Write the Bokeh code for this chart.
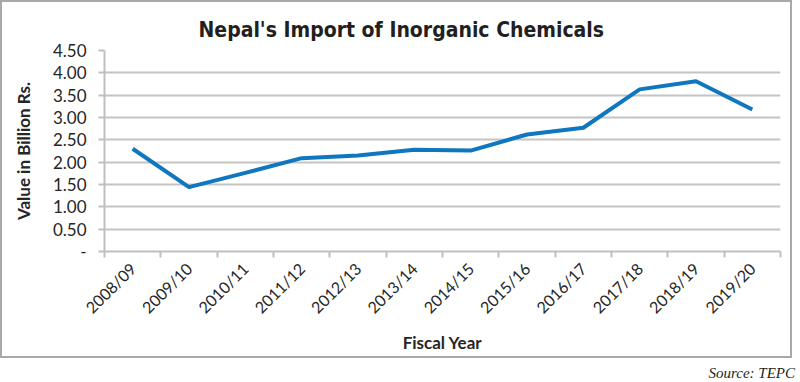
import math
from bokeh.plotting import figure
from bokeh.models import (ColumnDataSource, FixedTicker, NumeralTickFormatter, Range1d,
                          Div, Title)
from bokeh.layouts import column
from bokeh.embed import file_html
from bokeh.resources import INLINE

years = ["2008/09", "2009/10", "2010/11", "2011/12", "2012/13", "2013/14",
         "2014/15", "2015/16", "2016/17", "2017/18", "2018/19", "2019/20"]
values = [2.30, 1.44, 1.76, 2.09, 2.15, 2.28, 2.26, 2.62, 2.77, 3.63, 3.81, 3.18]
y_ticks = [0.0, 0.5, 1.0, 1.5, 2.0, 2.5, 3.0, 3.5, 4.0, 4.5]

centers = [i + 0.5 for i in range(len(years))]
bounds = [float(i) for i in range(len(years) + 1)]

src = ColumnDataSource(dict(x=centers, y=values, year=years))

p = figure(width=792, height=358, output_backend="svg", toolbar_location=None,
           x_range=Range1d(0, len(years)), y_range=Range1d(0, 4.5),
           min_border_left=102, min_border_right=14, min_border_top=48,
           min_border_bottom=109, background_fill_color="white",
           border_fill_color="white",
           styles={"border": "2px solid #a9a9a9"})
p.outline_line_color = None

p.line("x", "y", source=src, line_color="#0f77bf", line_width=4, line_join="round")

title = Title(text="Nepal's Import of Inorganic Chemicals", align="left",
              text_font="DejaVu Sans Condensed", text_font_size="21px",
              text_font_style="bold", text_color="#231f20", offset=94, standoff=17)
p.add_layout(title, "above")

grid_col = "#c4c4c4"
axis_col = "#bfbfbf"
lab_col = "#262626"

# x axis
p.xaxis.ticker = FixedTicker(ticks=centers, minor_ticks=bounds)
p.xaxis.major_label_overrides = {c: y for c, y in zip(centers, years)}
p.xaxis.major_label_orientation = math.pi / 4
p.xaxis.major_tick_line_color = None
p.xaxis.major_tick_out = 0
p.xaxis.minor_tick_out = 6
p.xaxis.minor_tick_in = 0
p.xaxis.minor_tick_line_color = axis_col
p.xaxis.minor_tick_line_width = 2
p.xaxis.axis_line_color = axis_col
p.xaxis.axis_line_width = 2
p.xaxis.major_label_text_font = "Lato"
p.xaxis.major_label_text_font_size = "16px"
p.xaxis.major_label_text_color = lab_col
p.xaxis.major_label_standoff = 8
p.xaxis.axis_label = "Fiscal Year"
p.xaxis.axis_label_text_font = "Lato"
p.xaxis.axis_label_text_font_size = "17px"
p.xaxis.axis_label_text_font_style = "bold"
p.xaxis.axis_label_text_color = lab_col
p.xaxis.axis_label_standoff = 6
p.xgrid.grid_line_color = None

# y axis
p.yaxis.ticker = FixedTicker(ticks=y_ticks, minor_ticks=[])
p.yaxis.formatter = NumeralTickFormatter(format="0.00")
p.yaxis.major_label_overrides = {0: "-"}
p.yaxis.major_tick_out = 6
p.yaxis.major_tick_in = 0
p.yaxis.major_tick_line_color = axis_col
p.yaxis.major_tick_line_width = 2
p.yaxis.axis_line_color = axis_col
p.yaxis.axis_line_width = 2
p.yaxis.major_label_text_font = "Lato"
p.yaxis.major_label_text_font_size = "17px"
p.yaxis.major_label_text_color = lab_col
p.yaxis.major_label_standoff = 12
p.yaxis.axis_label = "Value in Billion Rs."
p.yaxis.axis_label_text_font = "Lato"
p.yaxis.axis_label_text_font_size = "17px"
p.yaxis.axis_label_text_font_style = "bold"
p.yaxis.axis_label_text_color = lab_col
p.yaxis.axis_label_standoff = 16
p.ygrid.ticker = FixedTicker(ticks=y_ticks)
p.ygrid.grid_line_color = grid_col
p.ygrid.grid_line_width = 2

source = Div(text="Source: TEPC", width=790, height=18,
             styles={"text-align": "right", "font-family": "Liberation Serif",
                     "font-style": "italic", "font-size": "15px", "color": "#231f20",
                     "width": "790px"})

layout = column(p, source, spacing=0)

open("out.html", "w").write(file_html(layout, INLINE))
